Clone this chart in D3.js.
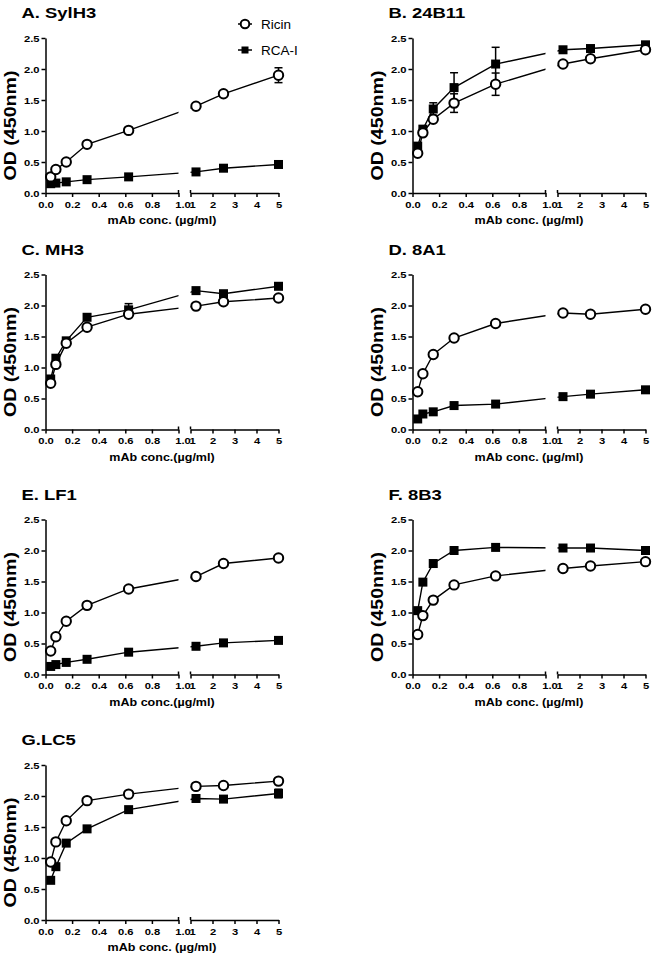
<!DOCTYPE html>
<html>
<head>
<meta charset="utf-8">
<script src="https://cdn.jsdelivr.net/npm/d3@7"></script>
<style>
  body { margin: 0; background: #fff; }
  text { font-family: "Liberation Sans", Arial, sans-serif; fill: #000; }
</style>
</head>
<body>
<div id="container"></div>
<script>
/* DATA */
const conc = [0.039, 0.078, 0.156, 0.3125, 0.625, 1.25, 2.5, 5];
const panelTitles = ["A. SylH3", "B. 24B11", "C. MH3", "D. 8A1", "E. LF1", "F. 8B3", "G.LC5"];
const xLabels = [
  "mAb conc. (\u00b5g/ml)", "mAb conc. (\u00b5g/ml)", "mAb conc.(\u00b5g/ml)", "mAb conc. (\u00b5g/ml)",
  "mAb conc.(\u00b5g/ml)", "mAb conc. (\u00b5g/ml)", "mAb conc. (\u00b5g/ml)"
];
const seriesNames = ["Ricin", "RCA-I"];

const ricinOD = [
  [0.26, 0.38, 0.50, 0.785, 1.01, 1.40, 1.60, 1.90],
  [0.64, 0.97, 1.19, 1.45, 1.755, 2.08, 2.165, 2.31],
  [0.745, 1.05, 1.39, 1.65, 1.86, 1.99, 2.06, 2.12],
  [0.61, 0.90, 1.21, 1.475, 1.71, 1.88, 1.86, 1.94],
  [0.38, 0.61, 0.86, 1.115, 1.38, 1.58, 1.79, 1.88],
  [0.645, 0.95, 1.20, 1.445, 1.59, 1.71, 1.75, 1.82],
  [0.935, 1.26, 1.60, 1.925, 2.03, 2.155, 2.17, 2.24]
];
const rcaOD = [
  [0.15, 0.16, 0.18, 0.215, 0.26, 0.34, 0.40, 0.46],
  [0.756, 1.03, 1.355, 1.70, 2.08, 2.31, 2.33, 2.39],
  [0.815, 1.15, 1.43, 1.81, 1.93, 2.24, 2.19, 2.31],
  [0.17, 0.25, 0.285, 0.386, 0.41, 0.53, 0.57, 0.64],
  [0.13, 0.16, 0.195, 0.245, 0.36, 0.455, 0.51, 0.55],
  [1.03, 1.49, 1.79, 2.00, 2.05, 2.04, 2.04, 2.00],
  [0.64, 0.86, 1.24, 1.47, 1.78, 1.96, 1.95, 2.04]
];
// SEM, 0 where no bar is visible
const ricinErr = [
  [0, 0, 0, 0, 0, 0, 0, 0.12],
  [0, 0, 0, 0.15, 0.18, 0, 0.03, 0],
  [0, 0, 0, 0, 0.05, 0, 0, 0],
  [0, 0, 0, 0, 0, 0, 0, 0],
  [0, 0, 0, 0, 0, 0, 0, 0],
  [0, 0, 0, 0, 0, 0.05, 0, 0],
  [0, 0, 0, 0, 0, 0, 0, 0]
];
const rcaErr = [
  [0, 0, 0, 0, 0, 0, 0, 0],
  [0, 0, 0.1, 0.24, 0.27, 0, 0.03, 0],
  [0, 0, 0, 0, 0.1, 0, 0, 0],
  [0, 0, 0, 0, 0, 0, 0, 0],
  [0, 0, 0, 0, 0, 0, 0, 0],
  [0, 0, 0, 0, 0, 0, 0, 0],
  [0, 0, 0, 0, 0, 0, 0, 0.07]
];

const yTicks = [0, 0.5, 1, 1.5, 2, 2.5];
const xTicksLeft = [0, 0.2, 0.4, 0.6, 0.8, 1.0];
const xTicksRight = [1, 2, 3, 4, 5];

/* LAYOUT */
const width = 654, height = 959;
const colX = [45.5, 412.5];
const rowTop = [38, 274.5, 519.5, 765];
const plotH = 155, leftW = 133, gapW = 12, rightW = 88;
const TX = 1.19; // text is drawn a bit wide in the original

const svg = d3.select("#container").append("svg")
  .attr("width", width)
  .attr("height", height);

panelTitles.forEach((title, i) => {
  const x0 = colX[i % 2];
  const top = rowTop[Math.floor(i / 2)];
  const bottom = top + plotH;

  const xl = d3.scaleLinear().domain([0, 1]).range([x0, x0 + leftW]);
  const xr = d3.scaleLinear().domain([1, 5]).range([x0 + leftW + gapW, x0 + leftW + gapW + rightW]);
  const xPos = c => c <= 1 ? xl(c) : xr(c);
  const y = d3.scaleLinear().domain([0, 2.5]).range([bottom, top]);

  const g = svg.append("g");

  // clip for lines so they break in the axis gap
  const clip = g.append("clipPath").attr("id", "clip" + i);
  clip.append("rect").attr("x", x0 - 20).attr("y", top - 20).attr("width", leftW + 20).attr("height", plotH + 40);
  clip.append("rect").attr("x", x0 + leftW + gapW).attr("y", top - 20).attr("width", rightW + 20).attr("height", plotH + 40);

  // AXES
  const yAxisGroup = g.append("g")
    .attr("transform", `translate(${x0},0)`)
    .call(d3.axisLeft(y).tickValues(yTicks).tickFormat(d3.format(".1f")).tickSize(4).tickSizeOuter(0));
  yAxisGroup.selectAll("text")
    .attr("x", null)
    .attr("transform", `translate(-6,0) scale(${TX},1)`);

  const xAxisL = g.append("g")
    .attr("transform", `translate(0,${bottom})`)
    .call(d3.axisBottom(xl).tickValues(xTicksLeft).tickFormat(d3.format(".1f")).tickSize(4).tickSizeOuter(0).tickPadding(4));
  xAxisL.selectAll("text")
    .attr("transform", d => `translate(${d === 1 ? 4 : 0},0) scale(${TX},1)`);

  const xAxisR = g.append("g")
    .attr("transform", `translate(0,${bottom})`)
    .call(d3.axisBottom(xr).tickValues(xTicksRight).tickFormat(d3.format("d")).tickSize(4).tickSizeOuter(0).tickPadding(4));
  xAxisR.selectAll("text")
    .attr("transform", d => `translate(${d === 1 ? 1.5 : 0},0) scale(${TX},1)`);

  // break marks stick up a little
  [xl(1), xr(1)].forEach(bx => {
    g.append("line")
      .attr("x1", bx).attr("x2", bx)
      .attr("y1", bottom - 3).attr("y2", bottom)
      .attr("stroke", "#000").attr("stroke-width", 1.5);
  });

  g.selectAll(".domain, .tick line").attr("stroke", "#000").attr("stroke-width", 1.5);
  g.selectAll(".tick text")
    .attr("font-size", 9.4)
    .attr("font-weight", "bold")
    .attr("fill", "#000");

  // TITLES
  g.append("text")
    .attr("transform", `translate(${x0 - 24},${top - 20}) scale(${TX},1)`)
    .attr("font-size", 15.5)
    .attr("font-weight", "bold")
    .text(title);

  g.append("text")
    .attr("transform", `translate(${x0 - 30},${(top + bottom) / 2 + 10}) rotate(-90) scale(${TX},1)`)
    .attr("text-anchor", "middle")
    .attr("font-size", 16.5)
    .attr("font-weight", "bold")
    .text("OD (450nm)");

  g.append("text")
    .attr("transform", `translate(${x0 + (leftW + gapW + rightW) / 2},${bottom + 31}) scale(1.09,1)`)
    .attr("text-anchor", "middle")
    .attr("font-size", 11.5)
    .attr("font-weight", "bold")
    .text(xLabels[i]);

  // DATA
  const ricin = conc.map((c, j) => ({c: c, v: ricinOD[i][j], e: ricinErr[i][j]}));
  const rca = conc.map((c, j) => ({c: c, v: rcaOD[i][j], e: rcaErr[i][j]}));

  const lineGen = d3.line()
    .x(d => xPos(d.c))
    .y(d => y(d.v));

  g.selectAll(".line")
    .data([rca, ricin])
    .join("path")
    .attr("class", "line")
    .attr("clip-path", `url(#clip${i})`)
    .attr("fill", "none")
    .attr("stroke", "#000")
    .attr("stroke-width", 1.4)
    .attr("d", d => lineGen(d));

  const errs = rca.concat(ricin).filter(d => d.e > 0);
  const eb = g.selectAll(".err")
    .data(errs)
    .join("g")
    .attr("class", "err")
    .attr("stroke", "#000")
    .attr("stroke-width", 1.5);
  eb.append("line")
    .attr("x1", d => xPos(d.c)).attr("x2", d => xPos(d.c))
    .attr("y1", d => y(d.v - d.e)).attr("y2", d => y(d.v + d.e));
  eb.append("line")
    .attr("x1", d => xPos(d.c) - 4).attr("x2", d => xPos(d.c) + 4)
    .attr("y1", d => y(d.v + d.e)).attr("y2", d => y(d.v + d.e));
  eb.append("line")
    .attr("x1", d => xPos(d.c) - 4).attr("x2", d => xPos(d.c) + 4)
    .attr("y1", d => y(d.v - d.e)).attr("y2", d => y(d.v - d.e));

  g.selectAll(".sq")
    .data(rca)
    .join("rect")
    .attr("class", "sq")
    .attr("x", d => xPos(d.c) - 4.5)
    .attr("y", d => y(d.v) - 4.5)
    .attr("width", 9)
    .attr("height", 9)
    .attr("fill", "#000");

  g.selectAll(".circ")
    .data(ricin)
    .join("circle")
    .attr("class", "circ")
    .attr("cx", d => xPos(d.c))
    .attr("cy", d => y(d.v))
    .attr("r", 4.7)
    .attr("fill", "#fff")
    .attr("stroke", "#000")
    .attr("stroke-width", 2);

  // LEGEND (first panel only)
  if (i === 0) {
    const legend = g.append("g");
    const items = [{name: seriesNames[0], y: 24}, {name: seriesNames[1], y: 50}];
    items.forEach((it, k) => {
      legend.append("line")
        .attr("x1", 238).attr("x2", 252)
        .attr("y1", it.y).attr("y2", it.y)
        .attr("stroke", "#000").attr("stroke-width", 1.5);
      if (k === 0) {
        legend.append("circle")
          .attr("cx", 245).attr("cy", it.y).attr("r", 4.3)
          .attr("fill", "#fff").attr("stroke", "#000").attr("stroke-width", 2);
      } else {
        legend.append("rect")
          .attr("x", 241.5).attr("y", it.y - 3.5).attr("width", 7).attr("height", 7)
          .attr("fill", "#000");
      }
      legend.append("text")
        .attr("x", 261).attr("y", it.y)
        .attr("dy", "0.35em")
        .attr("font-size", 13.5)
        .text(it.name);
    });
  }
});
</script>
</body>
</html>
